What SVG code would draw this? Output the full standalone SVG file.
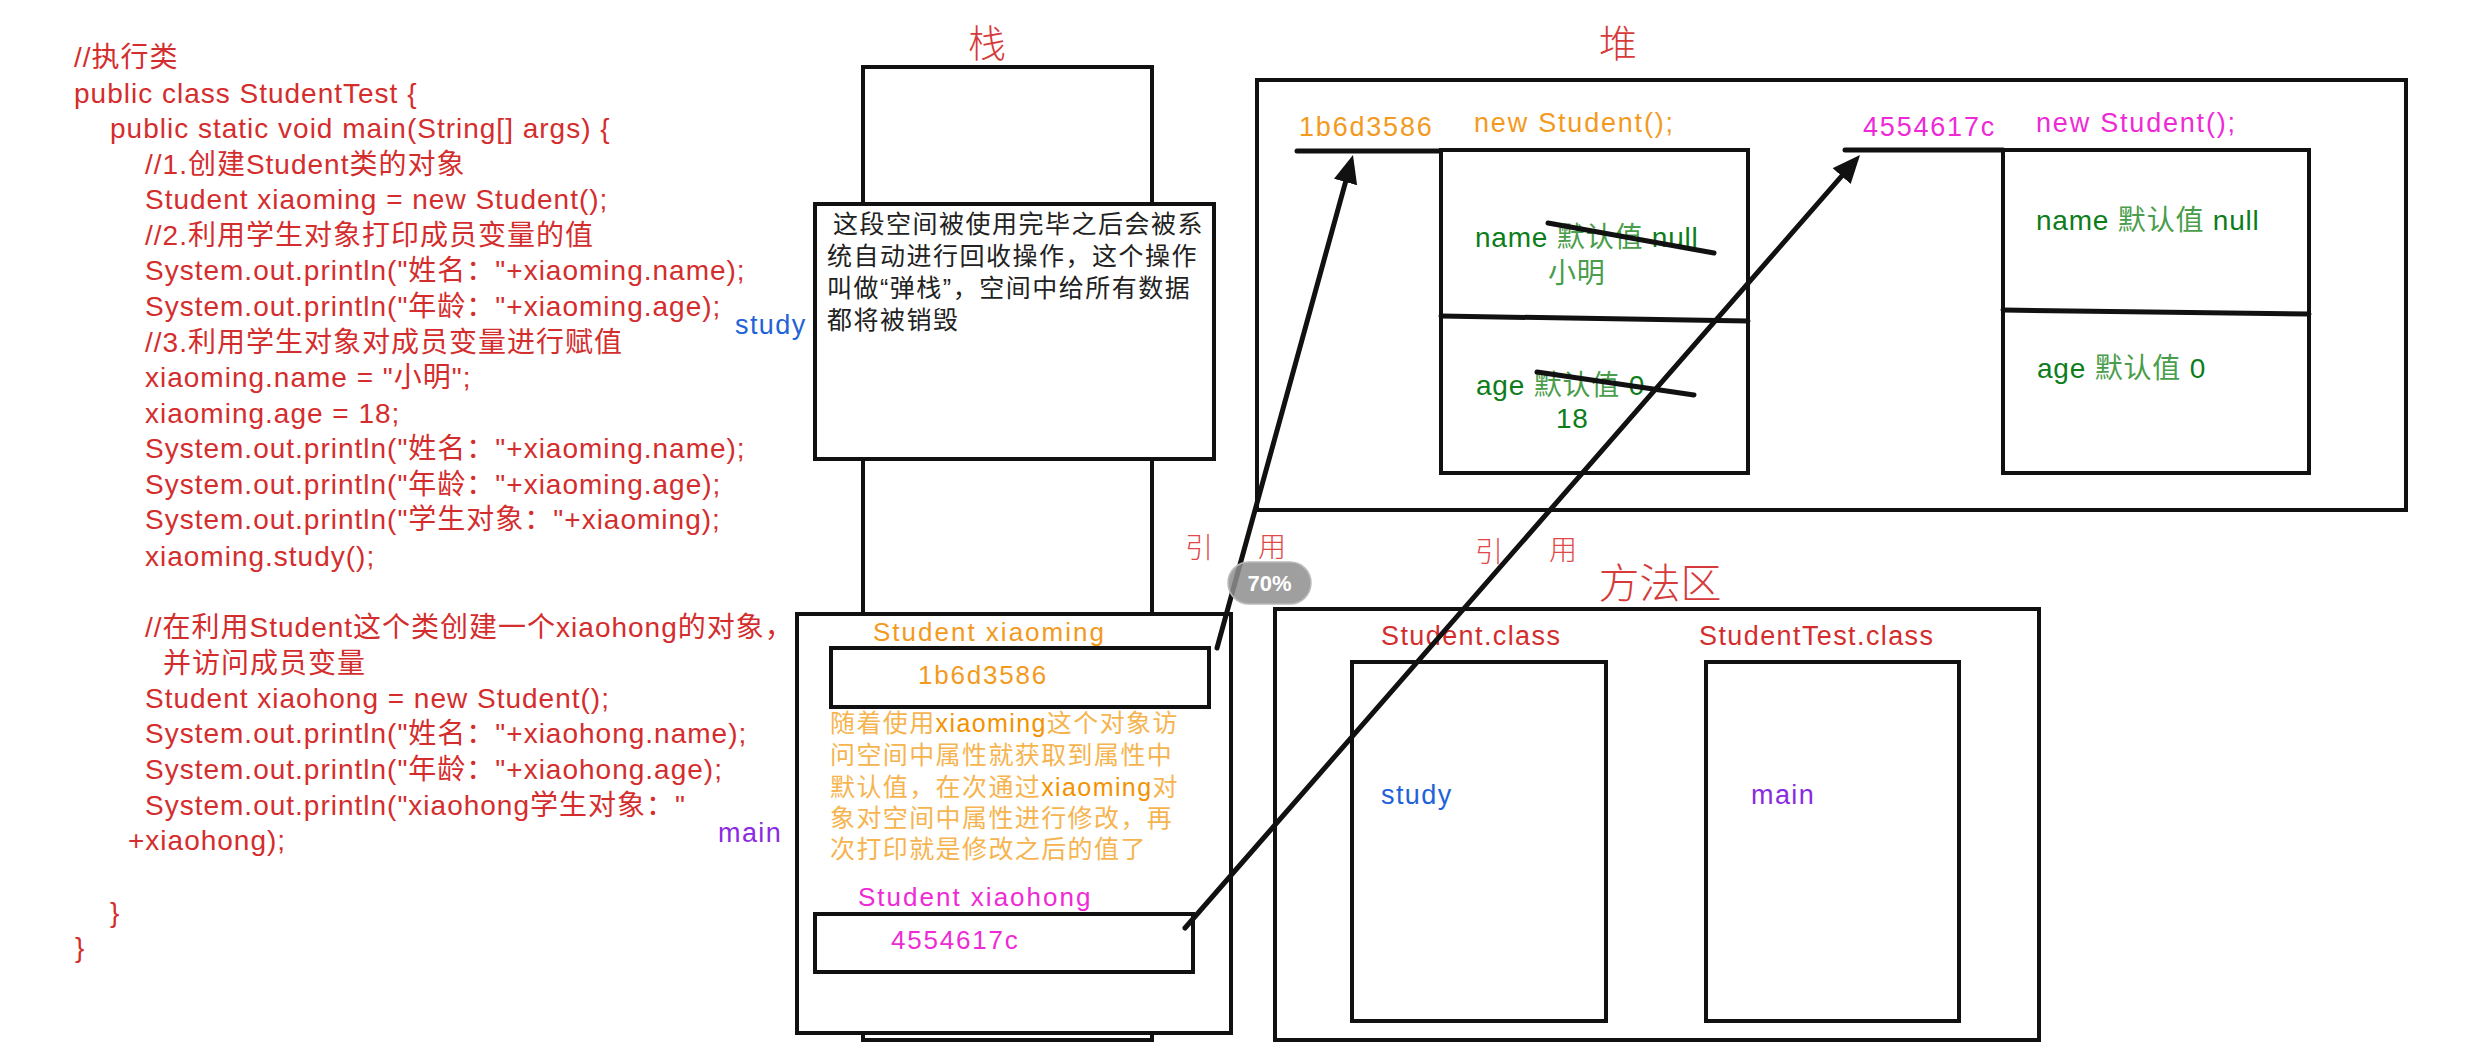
<svg xmlns="http://www.w3.org/2000/svg" width="2475" height="1054" viewBox="0 0 2475 1054">
<defs>
<style>
text{font-family:"Liberation Sans","Noto Sans CJK SC",sans-serif;dominant-baseline:central}
.code{font-size:28px;fill:#d42d2d;letter-spacing:1px}
.box{fill:#fff;stroke:#111;stroke-width:4}
.line{stroke:#111;stroke-width:5;stroke-linecap:round;fill:none}
.title{font-family:"Noto Sans CJK SC",sans-serif;font-weight:300;fill:#d63a3a}
.ref{font-family:"Noto Sans CJK SC",sans-serif;font-weight:300;font-size:28px;fill:#e04848}
.orange{fill:#f39a1e}
.mag{fill:#ee2ad6}
.green{fill:#0d7d1a;font-size:28px;letter-spacing:0.8px}
.lg{fill:#4a9d4a}
.note{font-size:25px;letter-spacing:1.5px;fill:#222}
.para{font-size:25px;letter-spacing:1.4px;fill:#f6b450}
.cls{font-size:27px;fill:#d42d2d;letter-spacing:1.4px}
</style>
<marker id="ah" markerUnits="userSpaceOnUse" markerWidth="32" markerHeight="26" refX="10" refY="12" orient="auto">
<path d="M0,0 L28,12 L0,24 Z" fill="#111"/>
</marker>
</defs>
<rect width="2475" height="1054" fill="#fff"/>

<g id="code">
<text class="code" x="74" y="57">//执行类</text>
<text class="code" x="74" y="93">public class StudentTest {</text>
<text class="code" x="110" y="128">public static void main(String[] args) {</text>
<text class="code" x="145" y="164">//1.创建Student类的对象</text>
<text class="code" x="145" y="199">Student xiaoming = new Student();</text>
<text class="code" x="145" y="235">//2.利用学生对象打印成员变量的值</text>
<text class="code" x="145" y="270">System.out.println("姓名："+xiaoming.name);</text>
<text class="code" x="145" y="306">System.out.println("年龄："+xiaoming.age);</text>
<text class="code" x="145" y="342">//3.利用学生对象对成员变量进行赋值</text>
<text class="code" x="145" y="377">xiaoming.name = "小明";</text>
<text class="code" x="145" y="413">xiaoming.age = 18;</text>
<text class="code" x="145" y="448">System.out.println("姓名："+xiaoming.name);</text>
<text class="code" x="145" y="484">System.out.println("年龄："+xiaoming.age);</text>
<text class="code" x="145" y="519">System.out.println("学生对象："+xiaoming);</text>
<text class="code" x="145" y="556">xiaoming.study();</text>
<text class="code" x="145" y="627">//在利用Student这个类创建一个xiaohong的对象，</text>
<text class="code" x="163" y="663">并访问成员变量</text>
<text class="code" x="145" y="698">Student xiaohong = new Student();</text>
<text class="code" x="145" y="733">System.out.println("姓名："+xiaohong.name);</text>
<text class="code" x="145" y="769">System.out.println("年龄："+xiaohong.age);</text>
<text class="code" x="145" y="805">System.out.println("xiaohong学生对象："</text>
<text class="code" x="128" y="840">+xiaohong);</text>
<text class="code" x="110" y="912">}</text>
<text class="code" x="75" y="947">}</text>
</g>

<g id="frame-labels">
<text x="735" y="325" font-size="27" letter-spacing="1.4" fill="#1f63d8">study</text>
<text x="718" y="833" font-size="27" letter-spacing="1.4" fill="#8a2be2">main</text>
</g>

<g id="stack">
<text class="title" x="987" y="40" font-size="38" text-anchor="middle">栈</text>
<rect class="box" x="863" y="67" width="289" height="973"/>
<g id="pop-note">
<rect class="box" x="815" y="204" width="399" height="255"/>
<text class="note" x="833" y="224">这段空间被使用完毕之后会被系</text>
<text class="note" x="827" y="256">统自动进行回收操作，这个操作</text>
<text class="note" x="827" y="288">叫做“弹栈”，空间中给所有数据</text>
<text class="note" x="827" y="320">都将被销毁</text>
</g>
<g id="main-frame">
<rect class="box" x="797" y="614" width="434" height="419"/>
<text class="orange" x="873" y="632" font-size="26" letter-spacing="2">Student xiaoming</text>
<rect class="box" x="831" y="648" width="378" height="59"/>
<text class="orange" x="918" y="675" font-size="26" letter-spacing="1.8">1b6d3586</text>
<text class="para" x="830" y="723">随着使用<tspan fill="#f39200">xiaoming</tspan>这个对象访</text>
<text class="para" x="830" y="755">问空间中属性就获取到属性中</text>
<text class="para" x="830" y="787">默认值，在次通过<tspan fill="#f39200">xiaoming</tspan>对</text>
<text class="para" x="830" y="818">象对空间中属性进行修改，再</text>
<text class="para" x="830" y="849">次打印就是修改之后的值了</text>
<text class="mag" x="858" y="897" font-size="26" letter-spacing="2">Student xiaohong</text>
<rect class="box" x="815" y="914" width="378" height="58"/>
<text class="mag" x="891" y="940" font-size="26" letter-spacing="1.8">4554617c</text>
</g>
</g>

<g id="heap">
<text class="title" x="1618" y="40" font-size="38" text-anchor="middle">堆</text>
<rect class="box" x="1257" y="80" width="1149" height="430"/>
<g id="obj1">
<text class="orange" x="1299" y="127" font-size="27" letter-spacing="1.8">1b6d3586</text>
<text class="orange" x="1474" y="123" font-size="27" letter-spacing="1.8">new Student();</text>
<line class="line" x1="1297" y1="151" x2="1441" y2="151"/>
<rect class="box" x="1441" y="150" width="307" height="323"/>
<line class="line" x1="1441" y1="316" x2="1748" y2="321"/>
<text class="green" x="1475" y="237">name <tspan class="lg">默认值</tspan> null</text>
<line class="line" x1="1548" y1="223" x2="1714" y2="253"/>
<text class="green lg" x="1548" y="273">小明</text>
<text class="green" x="1476" y="385">age <tspan class="lg">默认值</tspan> 0</text>
<line class="line" x1="1537" y1="372" x2="1694" y2="395"/>
<text class="green" x="1556" y="418">18</text>
</g>
<g id="obj2">
<text class="mag" x="1863" y="127" font-size="27" letter-spacing="1.8">4554617c</text>
<text class="mag" x="2036" y="123" font-size="27" letter-spacing="1.8">new Student();</text>
<line class="line" x1="1845" y1="150" x2="2003" y2="150"/>
<rect class="box" x="2003" y="150" width="306" height="323"/>
<line class="line" x1="2003" y1="310" x2="2309" y2="314"/>
<text class="green" x="2036" y="220">name <tspan class="lg">默认值</tspan> null</text>
<text class="green" x="2037" y="368">age <tspan class="lg">默认值</tspan> 0</text>
</g>
</g>

<g id="method-area">
<text class="title" x="1660" y="580" font-size="41" text-anchor="middle">方法区</text>
<rect class="box" x="1275" y="609" width="764" height="431"/>
<g id="student-class">
<text class="cls" x="1381" y="636">Student.class</text>
<rect class="box" x="1352" y="662" width="254" height="359"/>
<text x="1381" y="795" font-size="27" letter-spacing="1.4" fill="#1f63d8">study</text>
</g>
<g id="studenttest-class">
<text class="cls" x="1699" y="636">StudentTest.class</text>
<rect class="box" x="1706" y="662" width="253" height="359"/>
<text x="1751" y="795" font-size="27" letter-spacing="1.4" fill="#8a2be2">main</text>
</g>
</g>

<g id="connectors">
<line class="line" x1="1217" y1="648" x2="1348.2" y2="172.4" marker-end="url(#ah)"/>
<line class="line" x1="1185" y1="928" x2="1848.2" y2="168.6" marker-end="url(#ah)"/>
</g>

<g id="ref-labels">
<text class="ref" x="1199" y="546" text-anchor="middle">引</text>
<text class="ref" x="1272" y="545" text-anchor="middle">用</text>
<text class="ref" x="1489" y="550" text-anchor="middle">引</text>
<text class="ref" x="1563" y="548" text-anchor="middle">用</text>
</g>

<g id="zoom-badge">
<rect x="1228" y="562" width="83" height="42" rx="21" fill="#8e8e8e" fill-opacity="0.85" stroke="#bbb" stroke-width="1.5"/>
<text x="1269.5" y="583" font-size="22" font-weight="bold" fill="#fff" text-anchor="middle">70%</text>
</g>
</svg>
